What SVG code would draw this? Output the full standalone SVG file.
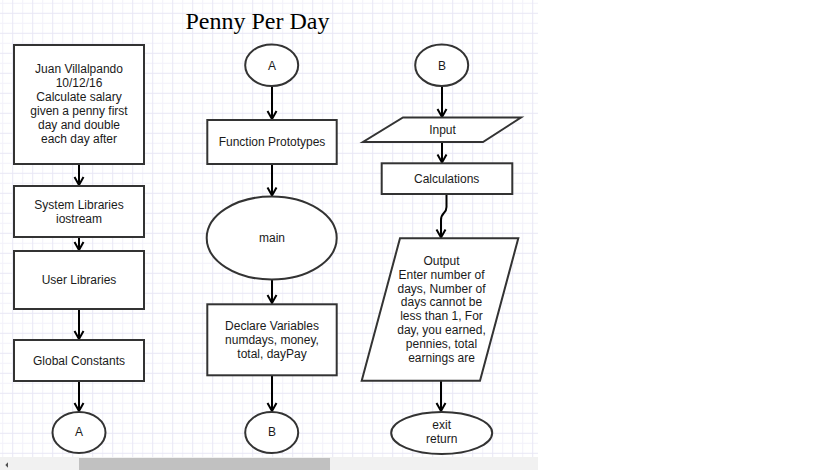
<svg xmlns="http://www.w3.org/2000/svg" width="819" height="470" viewBox="0 0 819 470">
<style>
.shape{fill:#fff;stroke:#333;stroke-width:2}
.lbl{font-family:"Liberation Sans",Arial,sans-serif;font-size:12px;fill:#1a1a1a;text-anchor:middle}
.title{font-family:"Liberation Serif","Times New Roman",serif;font-size:24px;fill:#000;text-anchor:middle}
.conn{fill:none;stroke:#000;stroke-width:2}
</style>
<defs>
<pattern id="grid" patternUnits="userSpaceOnUse" x="2.2" y="2.8" width="20" height="20">
<rect x="0" y="0" width="1" height="20" fill="#f2f1fa"/>
<rect x="0" y="0" width="20" height="1" fill="#f2f1fa"/>
<rect x="10" y="0" width="1" height="20" fill="#e8e7f5"/>
<rect x="0" y="10" width="20" height="1" fill="#e8e7f5"/>
</pattern>
<marker id="arr" markerUnits="userSpaceOnUse" markerWidth="12" markerHeight="12" viewBox="-10 -6 12 12" refX="0" refY="0" orient="auto">
<path d="M-8,-4.5 L0,0 L-8,4.5" fill="none" stroke="#000" stroke-width="2"/>
</marker>
</defs>
<rect x="0" y="0" width="819" height="470" fill="#fff"/>
<rect x="0" y="0" width="538" height="457" fill="url(#grid)"/>
<g id="scrollbar">
<rect x="0" y="457" width="538" height="13" fill="#f1f1f1"/>
<rect x="79" y="458" width="251" height="12" fill="#c1c1c1"/>
<polygon points="5.3,465 8,462.3 8,467.7" fill="#505050"/>
</g>
<text class="title" x="257.5" y="28.5">Penny Per Day</text>

<g id="connectors">
<path class="conn" d="M79,164 V185" marker-end="url(#arr)"/>
<path class="conn" d="M79,237 V250" marker-end="url(#arr)"/>
<path class="conn" d="M79,309 V339" marker-end="url(#arr)"/>
<path class="conn" d="M79,381 V411" marker-end="url(#arr)"/>
<path class="conn" d="M272,86 V119" marker-end="url(#arr)"/>
<path class="conn" d="M272,164 V195.5" marker-end="url(#arr)"/>
<path class="conn" d="M272,279.5 V303" marker-end="url(#arr)"/>
<path class="conn" d="M272,376 V411" marker-end="url(#arr)"/>
<path class="conn" d="M442,86 V117" marker-end="url(#arr)"/>
<path class="conn" d="M442,142 V162.5" marker-end="url(#arr)"/>
<path class="conn" d="M446.5,194 V207 C446.5,214 441,212 441,220 V237.5" marker-end="url(#arr)"/>
<path class="conn" d="M441,381 V411" marker-end="url(#arr)"/>
</g>

<g id="header">
<rect class="shape" x="14" y="45" width="130" height="119"/>
<text class="lbl" x="79" y="73">Juan Villalpando</text>
<text class="lbl" x="79" y="87">10/12/16</text>
<text class="lbl" x="79" y="101">Calculate salary</text>
<text class="lbl" x="79" y="115">given a penny first</text>
<text class="lbl" x="79" y="129">day and double</text>
<text class="lbl" x="79" y="143">each day after</text>
</g>
<g id="syslib">
<rect class="shape" x="14" y="186" width="130" height="51"/>
<text class="lbl" x="79" y="209">System Libraries</text>
<text class="lbl" x="79" y="223">iostream</text>
</g>
<g id="userlib">
<rect class="shape" x="14" y="251" width="130" height="58"/>
<text class="lbl" x="79" y="284">User Libraries</text>
</g>
<g id="globals">
<rect class="shape" x="14" y="340" width="130" height="41"/>
<text class="lbl" x="79" y="365">Global Constants</text>
</g>
<g id="connA1">
<ellipse class="shape" cx="79" cy="432.5" rx="26.5" ry="20.5"/>
<text class="lbl" x="79" y="436">A</text>
</g>

<g id="connA2">
<ellipse class="shape" cx="271.7" cy="65.2" rx="26.5" ry="20.8"/>
<text class="lbl" x="272" y="70">A</text>
</g>
<g id="protos">
<rect class="shape" x="207.3" y="120" width="129.4" height="44"/>
<text class="lbl" x="272" y="146">Function Prototypes</text>
</g>
<g id="main">
<ellipse class="shape" cx="271.7" cy="238" rx="65" ry="41.5"/>
<text class="lbl" x="272" y="242">main</text>
</g>
<g id="declare">
<rect class="shape" x="207.3" y="304.3" width="129.4" height="71"/>
<text class="lbl" x="272" y="330">Declare Variables</text>
<text class="lbl" x="272" y="344">numdays, money,</text>
<text class="lbl" x="272" y="358">total, dayPay</text>
</g>
<g id="connB1">
<ellipse class="shape" cx="271.7" cy="432.5" rx="26.5" ry="20.5"/>
<text class="lbl" x="272" y="436">B</text>
</g>

<g id="connB2">
<ellipse class="shape" cx="441.7" cy="65.2" rx="26.5" ry="20.8"/>
<text class="lbl" x="442" y="70">B</text>
</g>
<g id="input">
<polygon class="shape" points="403,117.5 521,117.5 483,142 363,142"/>
<text class="lbl" x="442.5" y="133.5">Input</text>
</g>
<g id="calc">
<rect class="shape" x="381.7" y="163.3" width="130.6" height="30.7"/>
<text class="lbl" x="446.7" y="183">Calculations</text>
</g>
<g id="output">
<polygon class="shape" points="400,238.3 518.3,238.3 480,380.7 361.7,380.7"/>
<text class="lbl" x="441.5" y="265">Output</text>
<text class="lbl" x="441.5" y="278.8">Enter number of</text>
<text class="lbl" x="441.5" y="292.6">days, Number of</text>
<text class="lbl" x="441.5" y="306.4">days cannot be</text>
<text class="lbl" x="441.5" y="320.2">less than 1, For</text>
<text class="lbl" x="441.5" y="334">day, you earned,</text>
<text class="lbl" x="441.5" y="347.8">pennies, total</text>
<text class="lbl" x="441.5" y="361.6">earnings are</text>
</g>
<g id="exit">
<ellipse class="shape" cx="441.7" cy="433" rx="50.5" ry="21"/>
<text class="lbl" x="441.7" y="429.3">exit</text>
<text class="lbl" x="441.7" y="443.3">return</text>
</g>
</svg>
